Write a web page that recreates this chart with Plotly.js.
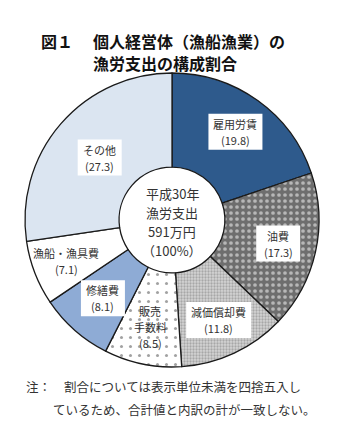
<!DOCTYPE html>
<html>
<head>
<meta charset="utf-8">
<script src="https://cdn.plot.ly/plotly-3.0.1.min.js"></script>
<style>html,body{margin:0;padding:0;background:#fff}#chart{width:359px;height:445px}</style>
</head>
<body>
<div id="chart"></div>
<script>
// ---- data ----
const categories = ["雇用労賃", "油費", "減価償却費", "販売手数料", "修繕費", "漁船・漁具費", "その他"];
const labelLines = [["雇用労賃"], ["油費"], ["減価償却費"], ["販売", "手数料"], ["修繕費"], ["漁船・漁具費"], ["その他"]];
const shares = [19.8, 17.3, 11.8, 8.5, 8.1, 7.1, 27.3];
const centerLines = ["平成30年", "漁労支出", "591万円", "（100%）"];
const titleLines = ["個人経営体（漁船漁業）の", "漁労支出の構成割合"];
const noteLines = ["割合については表示単位未満を四捨五入し", "ているため、合計値と内訳の計が一致しない。"];

// ---- styles ----
const fills = ["#2e5a8c", "#6e6e6e", "#d4d4d4", "#ffffff", "#8eabd5", "#ffffff", "#dbe5f1"];
const patShapes = ["", ".", ".", ".", "", "", ""];
const patFg = ["#2e5a8c", "#ffffff", "#7a7a7a", "#444444", "#8eabd5", "#ffffff", "#dbe5f1"];
const patSize = [8, 6, 3, 9, 8, 8, 8];
const patSolid = [0.3, 0.3, 0.45, 0.09, 0.3, 0.3, 0.3];
const boxed = [true, true, true, false, true, false, true];

const W = 359, H = 445;
const cx = 172, cy = 220, R = 147;
const holeFrac = 0.36;
const labelFrac = [0.74, 0.74, 0.75, 0.74, 0.71, 0.77, 0.65];
const FONT = "Noto Sans CJK JP";
const LBL = 11, LINE = 16;

const pie = {
  type: "pie",
  labels: categories,
  values: shares,
  sort: false,
  direction: "clockwise",
  rotation: 0,
  hole: holeFrac,
  textinfo: "none",
  hoverinfo: "label+value",
  marker: {
    colors: fills,
    line: {color: "#1a1a1a", width: 1.3},
    pattern: {shape: patShapes, fgcolor: patFg, bgcolor: fills, size: patSize, solidity: patSolid, fillmode: "overlay"}
  },
  domain: {x: [(cx - R) / W, (cx + R) / W], y: [1 - (cy + R) / H, 1 - (cy - R) / H]},
  showlegend: false
};

const px2x = p => p / W, px2y = p => 1 - p / H;
const total = shares.reduce((a, b) => a + b, 0);
const annotations = [], shapes = [];
let cum = 0;
shares.forEach((v, i) => {
  const mid = (cum + v / 2) / total * 2 * Math.PI;
  cum += v;
  const r = labelFrac[i] * R;
  const px = cx + r * Math.sin(mid);
  const py = cy - r * Math.cos(mid);
  const lines = labelLines[i].concat(["(" + v.toFixed(1) + ")"]);
  const n = lines.length;
  if (boxed[i]) {
    const maxChars = Math.max(...labelLines[i].map(s => s.length));
    const bw = Math.max(maxChars * LBL, 34) + 10;
    const bh = n * LINE + 4;
    shapes.push({type: "rect", xref: "paper", yref: "paper", layer: "above",
      x0: px2x(px - bw / 2), x1: px2x(px + bw / 2), y0: px2y(py + bh / 2), y1: px2y(py - bh / 2),
      fillcolor: "#ffffff", line: {width: 0}});
  }
  lines.forEach((t, k) => {
    annotations.push({
      xref: "paper", yref: "paper", x: px2x(px), y: px2y(py + (k - (n - 1) / 2) * LINE),
      xanchor: "center", yanchor: "middle", showarrow: false, text: t, borderpad: 0,
      font: {family: FONT, size: LBL, color: "#333"}
    });
  });
});

// center text, one line each
const centerOffsets = [-27, -8, 11, 30];
centerLines.forEach((t, i) => {
  annotations.push({xref: "paper", yref: "paper", x: px2x(cx), y: px2y(cy + centerOffsets[i]),
    xanchor: "center", yanchor: "middle", showarrow: false, text: t, borderpad: 0,
    font: {family: FONT, size: 13, color: "#333"}});
});

// title
annotations.push({xref: "paper", yref: "paper", x: px2x(40), y: px2y(41), xanchor: "left", yanchor: "middle",
  showarrow: false, text: "<b>図１</b>", borderpad: 0, font: {family: FONT, size: 16, color: "#111"}});
const titleY = [41, 63];
titleLines.forEach((t, i) => {
  annotations.push({xref: "paper", yref: "paper", x: px2x(92), y: px2y(titleY[i]), xanchor: "left", yanchor: "middle",
    showarrow: false, text: "<b>" + t + "</b>", borderpad: 0, font: {family: FONT, size: 16, color: "#111"}});
});
// note
annotations.push({xref: "paper", yref: "paper", x: px2x(24), y: px2y(386), xanchor: "left", yanchor: "middle",
  showarrow: false, text: "注：", font: {family: FONT, size: 12.5, color: "#333"}});
annotations.push({xref: "paper", yref: "paper", x: px2x(62), y: px2y(386), xanchor: "left", yanchor: "middle",
  showarrow: false, text: noteLines[0], font: {family: FONT, size: 12.5, color: "#333"}});
annotations.push({xref: "paper", yref: "paper", x: px2x(51), y: px2y(409), xanchor: "left", yanchor: "middle",
  showarrow: false, text: noteLines[1], font: {family: FONT, size: 12.5, color: "#333"}});

Plotly.newPlot("chart", [pie], {
  width: W, height: H,
  margin: {l: 0, r: 0, t: 0, b: 0},
  paper_bgcolor: "#fff",
  shapes: shapes,
  annotations: annotations
}, {staticPlot: true});
</script>
</body>
</html>
